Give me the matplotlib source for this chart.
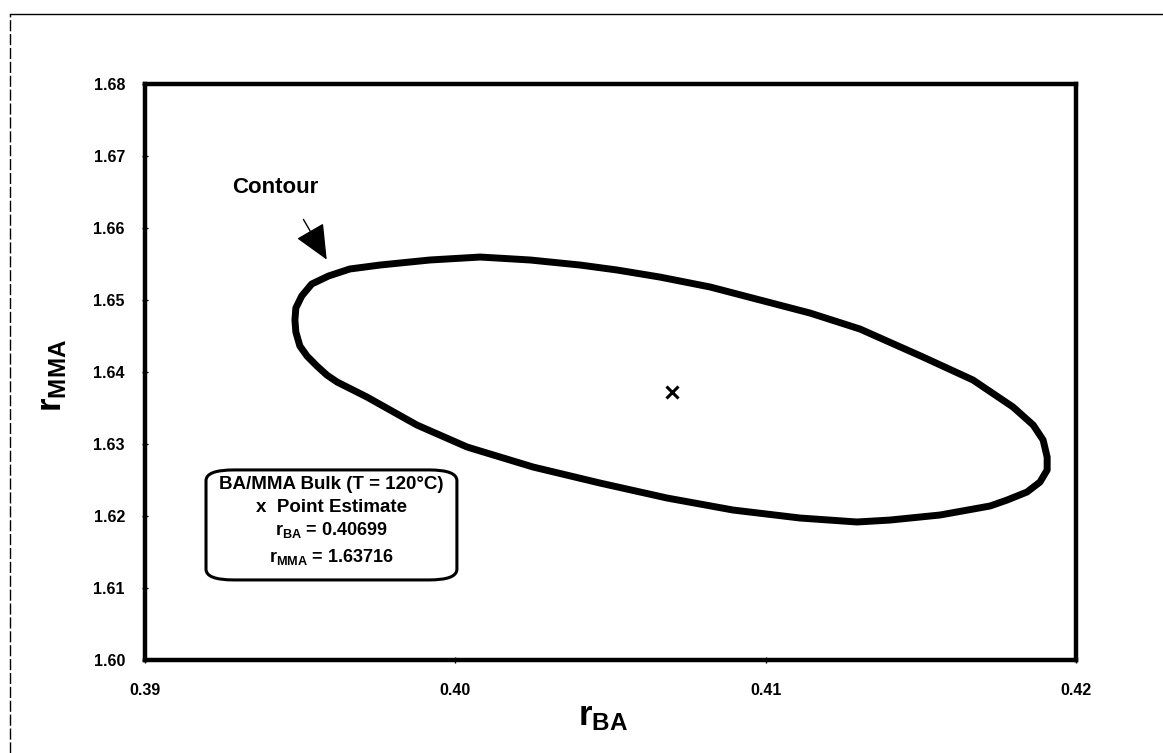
import matplotlib
matplotlib.use('Agg')
import matplotlib.pyplot as plt
from matplotlib.patches import FancyBboxPatch
from matplotlib.lines import Line2D

plt.rcParams['font.family'] = ['Liberation Sans', 'DejaVu Sans']
plt.rcParams['font.weight'] = 'bold'
plt.rcParams['mathtext.fontset'] = 'custom'
plt.rcParams['mathtext.rm'] = 'Liberation Sans:bold'
plt.rcParams['mathtext.bf'] = 'Liberation Sans:bold'
plt.rcParams['mathtext.it'] = 'Liberation Sans:bold'

# joint confidence contour (closed loop)
contour_rba = [0.39483, 0.39486, 0.39505, 0.39537, 0.39591, 0.39660, 0.39757,
               0.39918, 0.40080, 0.40241, 0.40402, 0.40521, 0.40659, 0.40821,
               0.40982, 0.41143, 0.41304, 0.41507, 0.41668, 0.41797, 0.41862,
               0.41894, 0.41907, 0.41907, 0.41884, 0.41842, 0.41778, 0.41723,
               0.41562, 0.41401, 0.41294, 0.41111, 0.40895, 0.40682, 0.40466,
               0.40250, 0.40038, 0.39876, 0.39715, 0.39619, 0.39586, 0.39554,
               0.39522, 0.39499, 0.39486]
contour_rmma = [1.64722, 1.64889, 1.65056, 1.65222, 1.65333, 1.65431, 1.65486,
                1.65556, 1.65597, 1.65556, 1.65486, 1.65417, 1.65319, 1.65181,
                1.65000, 1.64819, 1.64597, 1.64208, 1.63889, 1.63514, 1.63264,
                1.63056, 1.62819, 1.62639, 1.62472, 1.62333, 1.62222, 1.62139,
                1.62014, 1.61944, 1.61917, 1.61972, 1.62083, 1.62250, 1.62458,
                1.62681, 1.62958, 1.63264, 1.63653, 1.63861, 1.63958, 1.64083,
                1.64222, 1.64361, 1.64556]

r_ba_est = 0.40699
r_mma_est = 1.63716

x_ticks = [0.39, 0.40, 0.41, 0.42]
y_ticks = [1.60, 1.61, 1.62, 1.63, 1.64, 1.65, 1.66, 1.67, 1.68]

fig = plt.figure(figsize=(11.63, 7.53), dpi=100)
ax = fig.add_axes([0.1247, 0.1235, 0.8005, 0.7649])

ax.fill(contour_rba, contour_rmma, fill=False, edgecolor='black', lw=5,
        joinstyle='round')
ax.plot([r_ba_est], [r_mma_est], marker='x', color='black', ms=9, mew=2.2,
        linestyle='none')

ax.set_xlim(0.39, 0.42)
ax.set_ylim(1.60, 1.68)
ax.set_xticks(x_ticks)
ax.set_xticklabels(['%.2f' % v for v in x_ticks])
ax.set_yticks(y_ticks)
ax.set_yticklabels(['%.2f' % v for v in y_ticks])
ax.tick_params(direction='inout', length=5, width=1, labelsize=11.5)
ax.tick_params(axis='y', pad=12)
ax.tick_params(axis='x', pad=14)
for sp in ax.spines.values():
    sp.set_linewidth(3.2)

ax.set_xlabel(r'$\mathbf{r_{BA}}$', fontsize=25)
ax.set_ylabel(r'$\mathbf{r_{MMA}}$', fontsize=25)
ax.xaxis.set_label_coords(0.492, -0.07)
ax.yaxis.set_label_coords(-0.082, 0.495)

# "Contour" callout
ax.annotate('', xy=(0.39590, 1.65528), xytext=(0.39506, 1.66153),
            arrowprops=dict(arrowstyle='-|>,head_length=1.0,head_width=0.45',
                            mutation_scale=22, color='black', lw=1))
ax.text(0.39420, 1.66556, 'Contour', fontsize=16, ha='center', va='center')

# info box
box = FancyBboxPatch((0.0655, 0.139), 0.2695, 0.191, transform=ax.transAxes,
                     boxstyle='round,pad=0,rounding_size=0.03',
                     fc='white', ec='black', lw=2.2, mutation_aspect=576 / 931)
ax.add_patch(box)
ax.text(0.2, 0.304, 'BA/MMA Bulk (T = 120\u00b0C)', transform=ax.transAxes,
        fontsize=13.5, ha='center', va='center')
ax.text(0.2, 0.264, 'x  Point Estimate', transform=ax.transAxes,
        fontsize=13.5, ha='center', va='center')
ax.text(0.2, 0.226, r'$\mathbf{r_{BA}}$ = 0.40699', transform=ax.transAxes,
        fontsize=13, ha='center', va='center')
ax.text(0.2, 0.179, r'$\mathbf{r_{MMA}}$ = 1.63716', transform=ax.transAxes,
        fontsize=13, ha='center', va='center')

# outer page frame
fig.add_artist(Line2D([0.0086, 1.0], [0.981, 0.981], color='black', lw=1))
fig.add_artist(Line2D([0.0086, 0.0086], [0.0, 0.981], color='black', lw=1,
                      linestyle=(0, (8, 2))))

fig.savefig('out.png', dpi=100)
